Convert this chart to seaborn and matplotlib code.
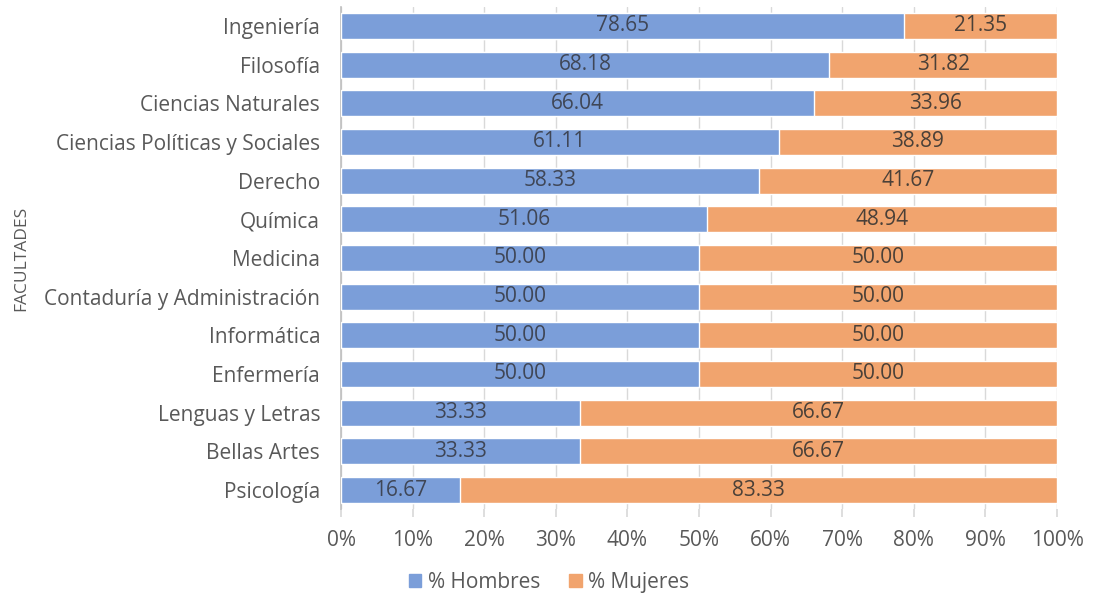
import pandas as pd
import seaborn as sns
import matplotlib.pyplot as plt
from matplotlib.patches import Patch

facultades = ["Ingeniería", "Filosofía", "Ciencias Naturales", "Ciencias Políticas y Sociales",
              "Derecho", "Química", "Medicina", "Contaduría y Administración", "Informática",
              "Enfermería", "Lenguas y Letras", "Bellas Artes", "Psicología"]
hombres = [78.65, 68.18, 66.04, 61.11, 58.33, 51.06, 50.00, 50.00, 50.00, 50.00, 33.33, 33.33, 16.67]
mujeres = [21.35, 31.82, 33.96, 38.89, 41.67, 48.94, 50.00, 50.00, 50.00, 50.00, 66.67, 66.67, 83.33]

df = pd.DataFrame({"Facultad": facultades, "Hombres": hombres, "Mujeres": mujeres})
df["Total"] = df["Hombres"] + df["Mujeres"]

azul = "#7b9ed9"
naranja = "#f1a46e"
gris = "#595959"
fs = 15

sns.set_theme(style="white")
plt.rcParams["font.family"] = ["Open Sans", "DejaVu Sans"]

fig = plt.figure(figsize=(10.98, 5.94), dpi=100)
ax = fig.add_axes([0.3106, 0.1425, 0.6521, 0.8465])

# stacked 100%: full bar in orange, men's share drawn over it
sns.barplot(data=df, x="Total", y="Facultad", color=naranja, width=0.67, saturation=1, ax=ax, zorder=2)
sns.barplot(data=df, x="Hombres", y="Facultad", color=azul, width=0.67, saturation=1, ax=ax, zorder=3)

ax.bar_label(ax.containers[1], labels=[f"{v:.2f}" for v in df["Hombres"]],
             label_type="center", fontsize=fs, color="#3f4656", zorder=4)
for i, (h, m) in enumerate(zip(df["Hombres"], df["Mujeres"])):
    ax.text(h + m / 2, i, f"{m:.2f}", ha="center", va="center", fontsize=fs, color="#4a4038", zorder=4)

ax.set_xlim(0, 100)
ax.set_ylim(12.5, -0.5)
ax.set_xticks(range(0, 101, 10))
ax.set_xticklabels([f"{t}%" for t in range(0, 101, 10)])
ax.xaxis.grid(True, color="#d9d9d9", linewidth=1, zorder=0)
ax.set_axisbelow(True)
for s in ["top", "right", "bottom"]:
    ax.spines[s].set_visible(False)
ax.spines["left"].set_color("#bfbfbf")
ax.spines["left"].set_linewidth(1.2)
ax.tick_params(axis="x", length=6, color="#d9d9d9", pad=9, labelsize=fs, labelcolor=gris, bottom=True)
ax.tick_params(axis="y", length=0, pad=15, labelsize=fs, labelcolor=gris)
ax.set_xlabel("")
ax.set_ylabel("FACULTADES", fontsize=12.5, color=gris)
ax.yaxis.set_label_coords(-0.436, 0.5)

handles = [Patch(color=azul, label="% Hombres"), Patch(color=naranja, label="% Mujeres")]
fig.legend(handles=handles, loc="center", bbox_to_anchor=(0.5, 0.02), ncol=2, frameon=False,
           fontsize=fs, labelcolor=gris, handlelength=0.6, handleheight=0.6, handletextpad=0.3,
           columnspacing=1.4)

fig.savefig("out.png", dpi=100)
